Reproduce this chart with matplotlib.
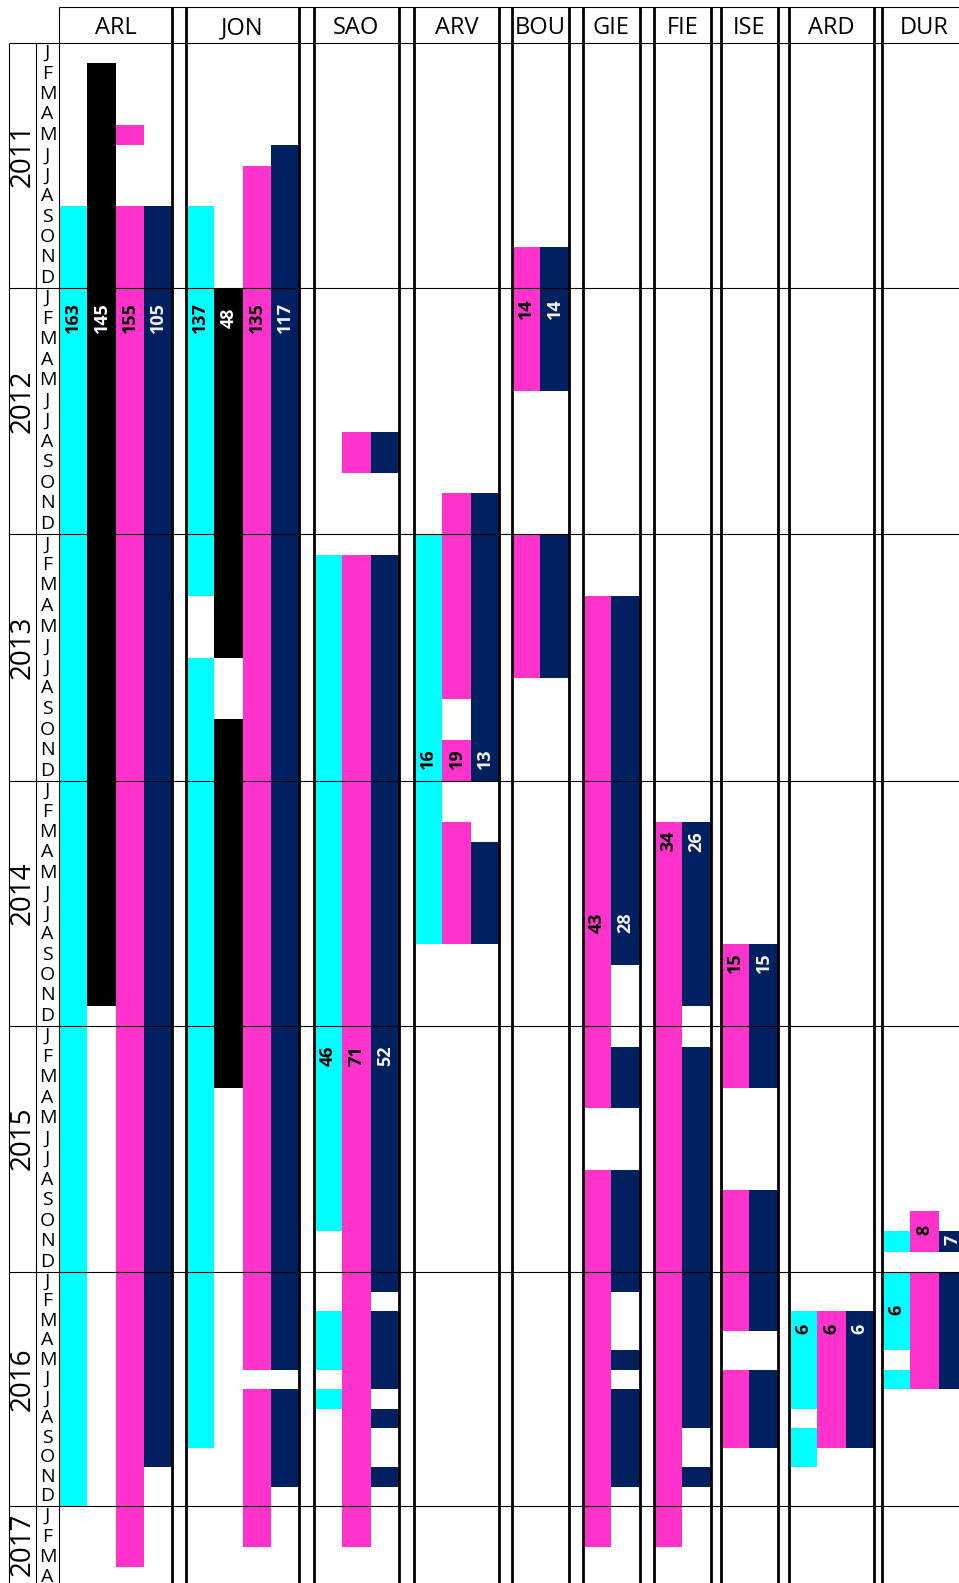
import numpy as np
import matplotlib
matplotlib.use("Agg")
import matplotlib.pyplot as plt

# sites (columns) and the series drawn inside each column, left to right
sites = ["ARL", "JON", "SAO", "ARV", "BOU", "GIE", "FIE", "ISE", "ARD", "DUR"]
site_series = {
    "ARL": ["cyan", "black", "magenta", "navy"],
    "JON": ["cyan", "black", "magenta", "navy"],
    "SAO": ["cyan", "magenta", "navy"],
    "ARV": ["cyan", "magenta", "navy"],
    "BOU": ["magenta", "navy"],
    "GIE": ["magenta", "navy"],
    "FIE": ["magenta", "navy"],
    "ISE": ["magenta", "navy"],
    "ARD": ["cyan", "magenta", "navy"],
    "DUR": ["cyan", "magenta", "navy"],
}

# active periods, first and last month included
arl = {
    "cyan": [("2011-09", "2016-12")],
    "black": [("2011-02", "2014-11")],
    "magenta": [("2011-05", "2011-05"), ("2011-09", "2017-03")],
    "navy": [("2011-09", "2016-10")],
}
jon = {
    "cyan": [("2011-09", "2013-03"), ("2013-07", "2016-09")],
    "black": [("2012-01", "2013-06"), ("2013-10", "2015-03")],
    "magenta": [("2011-07", "2016-05"), ("2016-07", "2017-02")],
    "navy": [("2011-06", "2016-05"), ("2016-07", "2016-11")],
}
sao = {
    "cyan": [("2013-02", "2015-10"), ("2016-03", "2016-05"), ("2016-07", "2016-07")],
    "magenta": [("2012-08", "2012-09"), ("2013-02", "2017-02")],
    "navy": [("2012-08", "2012-09"), ("2013-02", "2016-01"), ("2016-03", "2016-06"),
             ("2016-08", "2016-08"), ("2016-11", "2016-11")],
}
arv = {
    "cyan": [("2013-01", "2014-08")],
    "magenta": [("2012-11", "2013-08"), ("2013-11", "2013-12"), ("2014-03", "2014-08")],
    "navy": [("2012-11", "2013-12"), ("2014-04", "2014-08")],
}
bou = {
    "magenta": [("2011-11", "2012-05"), ("2013-01", "2013-07")],
    "navy": [("2011-11", "2012-05"), ("2013-01", "2013-07")],
}
gie = {
    "magenta": [("2013-04", "2015-04"), ("2015-08", "2017-02")],
    "navy": [("2013-04", "2014-09"), ("2015-02", "2015-04"), ("2015-08", "2016-01"),
             ("2016-05", "2016-05"), ("2016-07", "2016-11")],
}
fie = {
    "magenta": [("2014-03", "2017-02")],
    "navy": [("2014-03", "2014-11"), ("2015-02", "2016-08"), ("2016-11", "2016-11")],
}
ise = {
    "magenta": [("2014-09", "2015-03"), ("2015-09", "2016-03"), ("2016-06", "2016-09")],
    "navy": [("2014-09", "2015-03"), ("2015-09", "2016-03"), ("2016-06", "2016-09")],
}
ard = {
    "cyan": [("2016-03", "2016-07"), ("2016-09", "2016-10")],
    "magenta": [("2016-03", "2016-09")],
    "navy": [("2016-03", "2016-09")],
}
dur = {
    "cyan": [("2015-11", "2015-11"), ("2016-01", "2016-04"), ("2016-06", "2016-06")],
    "magenta": [("2015-10", "2015-11"), ("2016-01", "2016-06")],
    "navy": [("2015-11", "2015-11"), ("2016-01", "2016-06")],
}
periods = {"ARL": arl, "JON": jon, "SAO": sao, "ARV": arv, "BOU": bou,
           "GIE": gie, "FIE": fie, "ISE": ise, "ARD": ard, "DUR": dur}

# value labels: site, series, text, month (months since Jan 2011)
labels = [
    ("ARL", "cyan", "163", 13.45), ("ARL", "black", "145", 13.45),
    ("ARL", "magenta", "155", 13.45), ("ARL", "navy", "105", 13.45),
    ("JON", "cyan", "137", 13.45), ("JON", "black", "48", 13.45),
    ("JON", "magenta", "135", 13.45), ("JON", "navy", "117", 13.45),
    ("SAO", "cyan", "46", 49.45), ("SAO", "magenta", "71", 49.45), ("SAO", "navy", "52", 49.45),
    ("ARV", "cyan", "16", 34.9), ("ARV", "magenta", "19", 34.9), ("ARV", "navy", "13", 34.9),
    ("BOU", "magenta", "14", 13.0), ("BOU", "navy", "14", 13.0),
    ("GIE", "magenta", "43", 42.95), ("GIE", "navy", "28", 42.95),
    ("FIE", "magenta", "34", 38.95), ("FIE", "navy", "26", 38.95),
    ("ISE", "magenta", "15", 44.9), ("ISE", "navy", "15", 44.9),
    ("ARD", "cyan", "6", 62.9), ("ARD", "magenta", "6", 62.9), ("ARD", "navy", "6", 62.9),
    ("DUR", "cyan", "6", 61.95), ("DUR", "magenta", "8", 57.95), ("DUR", "navy", "7", 58.45),
]

years = [2011, 2012, 2013, 2014, 2015, 2016, 2017]
month_letters = "JFMAMJJASOND"

colors = {"cyan": "#00FFFF", "black": "#000000", "magenta": "#FF33CC", "navy": "#002060"}
text_colors = {"cyan": "black", "black": "white", "magenta": "black", "navy": "#F2F2F2"}

# layout (pixels)
W, H = 959, 1583
col_left = [59, 186, 314, 414, 512, 583, 654, 721, 789, 882]
slot_w = 28.3
year_top_px = np.array([43, 288, 534, 781, 1026, 1272, 1506, 1750], float)
knot_m = np.arange(len(year_top_px)) * 12.0


def month_index(s):
    y, m = s.split("-")
    return (int(y) - 2011) * 12 + int(m) - 1


def to_px(m):
    m = np.asarray(m, float)
    out = np.interp(m, knot_m, year_top_px)
    s0 = (year_top_px[1] - year_top_px[0]) / 12
    s1 = (year_top_px[-1] - year_top_px[-2]) / 12
    out = np.where(m < 0, year_top_px[0] + m * s0, out)
    out = np.where(m > knot_m[-1], year_top_px[-1] + (m - knot_m[-1]) * s1, out)
    return out


def from_px(p):
    p = np.asarray(p, float)
    out = np.interp(p, year_top_px, knot_m)
    s0 = (year_top_px[1] - year_top_px[0]) / 12
    s1 = (year_top_px[-1] - year_top_px[-2]) / 12
    out = np.where(p < year_top_px[0], (p - year_top_px[0]) / s0, out)
    out = np.where(p > year_top_px[-1], knot_m[-1] + (p - year_top_px[-1]) / s1, out)
    return out


font = ["Open Sans", "DejaVu Sans"]

fig = plt.figure(figsize=(W / 100, H / 100), dpi=100)
ax = fig.add_axes([0, 0, 1, 1])
ax.set_yscale("function", functions=(to_px, from_px))
ax.set_xlim(0, W)
y_bottom = float(from_px(H))
y_header = float(from_px(7))
ax.set_ylim(y_bottom, float(from_px(0)))
ax.axis("off")

# bars
for i, site in enumerate(sites):
    for j, ser in enumerate(site_series[site]):
        x0 = col_left[i] + j * slot_w
        for start, end in periods[site][ser]:
            s = month_index(start)
            e = month_index(end) + 1
            ax.bar(x0, e - s, bottom=s, width=slot_w, align="edge",
                   color=colors[ser], linewidth=0, zorder=2)

# value labels
for site, ser, txt, m in labels:
    i = sites.index(site)
    j = site_series[site].index(ser)
    xc = col_left[i] + (j + 0.5) * slot_w
    ax.text(xc, m, txt, rotation=90, ha="center", va="center", fontsize=13,
            fontweight="bold", color=text_colors[ser], family=font, zorder=4)

# grid: year rows
ax.hlines(knot_m[:-1], 9, W, color="black", lw=0.8, zorder=5)
ax.hlines(y_header, 59, W, color="black", lw=0.8, zorder=5)
ax.vlines([9, 36], 0, y_bottom, color="black", lw=0.8, zorder=5)
ax.vlines(59, y_header, y_bottom, color="black", lw=0.8, zorder=5)

# grid: site columns (double lines between columns)
for i, site in enumerate(sites):
    left = col_left[i]
    right = left + len(site_series[site]) * slot_w
    xs = [right] if i == 0 else [left, right]
    ax.vlines(xs, y_header, y_bottom, color="black", lw=2.0, zorder=5)
    ax.text((left + right) / 2, float(from_px(28)), site, ha="center", va="center",
            fontsize=17, family=font)

# month letters
for m in range(int(np.ceil(y_bottom))):
    ax.text(47.5, m + 0.5, month_letters[m % 12], ha="center", va="center",
            fontsize=14, family=font)

# year labels
for k, yr in enumerate(years):
    top = k * 12
    bot = min(top + 12, y_bottom)
    yc = (top + bot) / 2 - (0.5 if bot == top + 12 else 0)
    ax.text(22.5, yc, str(yr), rotation=90, ha="center", va="center",
            fontsize=20, family=font)

fig.savefig("out.png", dpi=100)
